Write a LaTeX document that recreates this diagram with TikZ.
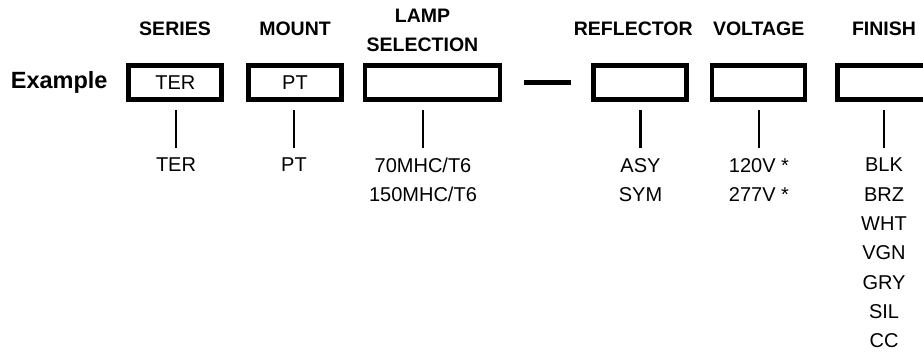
\documentclass[tikz,border=0pt]{standalone}
\usepackage{fontspec}
\setmainfont{Liberation Sans}
\usetikzlibrary{calc}

\begin{document}
\begin{tikzpicture}[x=1pt,y=-1pt]
		\tikzset{codebox/.style = {draw, line width=4.7pt, minimum width=93pt, minimum height=33.7pt, inner sep=0pt, font=\fontsize{20}{24}\selectfont}}
		\tikzset{heading/.style = {inner sep=0pt, font=\fontsize{19.5}{29}\selectfont\bfseries, align=center}}
		\tikzset{choices/.style = {anchor=north, inner sep=0pt, font=\fontsize{20}{29.3}\selectfont, align=center}}
		\tikzset{stem/.style = {line width=2.3pt}}

		\useasboundingbox (0,0) rectangle (923,351);

		\node[anchor=base west, inner sep=0pt, font=\fontsize{23.5}{26}\selectfont\bfseries] (ex) at (10.7,88.3) {Example};

		\node[codebox] (ser) at (175.3,82.5) {TER};
		\node[codebox] (mnt) at (295,82.5) {PT};
		\node[codebox, minimum width=135pt] (lmp) at (432.5,82.5) {};
		\node[codebox] (rfl) at (640.2,82.5) {};
		\node[codebox] (vlt) at (758.5,82.5) {};
		\node[codebox] (fin) at (884.1,82.5) {};

		\node[heading, anchor=base] (hser) at (175,35) {SERIES};
		\node[heading, anchor=base] (hmnt) at (295,35) {MOUNT};
		\node[heading, anchor=north] (hlmp) at (422.5,8.7) {LAMP\\SELECTION};
		\node[heading, anchor=base] (hrfl) at (633.3,35) {REFLECTOR};
		\node[heading, anchor=base] (hvlt) at (758.7,35) {VOLTAGE};
		\node[heading, anchor=base] (hfin) at (884,35) {FINISH};

		\node[choices] (oser) at (176,158) {TER};
		\node[choices] (omnt) at (294,158) {PT};
		\node[choices] (olmp) at (423,158) {70MHC/T6\\150MHC/T6};
		\node[choices] (orfl) at (640.5,158) {ASY\\SYM};
		\node[choices] (ovlt) at (759,158) {120V *\\277V *};
		\node[choices] (ofin) at (884,158) {BLK\\BRZ\\WHT\\VGN\\GRY\\SIL\\CC};

		\draw[stem] ([yshift=9.7pt]oser.north) -- ($(oser.north |- ser.south)+(0,8.3)$);
		\draw[stem] ([yshift=9.7pt]omnt.north) -- ($(omnt.north |- mnt.south)+(0,8.3)$);
		\draw[stem] ([yshift=9.7pt]olmp.north) -- ($(olmp.north |- lmp.south)+(0,8.3)$);
		\draw[stem] ([yshift=9.7pt]orfl.north) -- ($(orfl.north |- rfl.south)+(0,8.3)$);
		\draw[stem] ([yshift=9.7pt]ovlt.north) -- ($(ovlt.north |- vlt.south)+(0,8.3)$);
		\draw[stem] ([yshift=9.7pt]ofin.north) -- ($(ofin.north |- fin.south)+(0,8.3)$);

		\draw[line width=5pt] ($(lmp.east)+(21.7,0)$) -- ($(rfl.west)+(-20.3,0)$);
	\end{tikzpicture}
\end{document}
